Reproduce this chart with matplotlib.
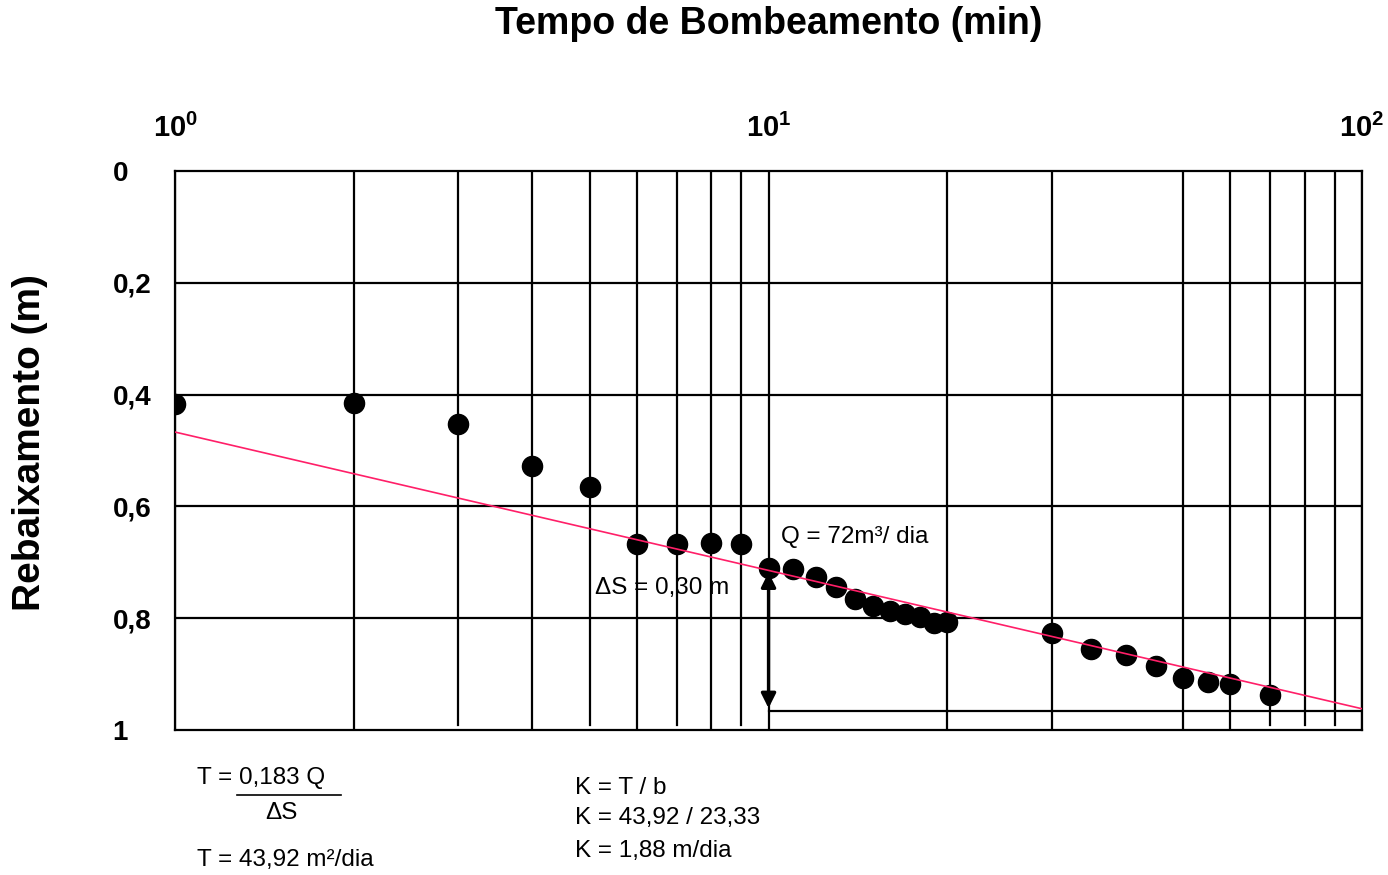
import matplotlib as mpl
import matplotlib.pyplot as plt
from matplotlib.lines import Line2D

mpl.rcParams['font.family'] = ['Liberation Sans', 'DejaVu Sans']
mpl.rcParams['mathtext.fontset'] = 'custom'
mpl.rcParams['mathtext.rm'] = 'Liberation Sans'
mpl.rcParams['mathtext.bf'] = 'Liberation Sans:bold'

# teste de bombeamento: tempo (min) x rebaixamento (m)
tempo_min = [1, 2, 3, 4, 5, 6, 7, 8, 9, 10, 11, 12, 13, 14, 15, 16, 17, 18, 19, 20,
             30, 35, 40, 45, 50, 55, 60, 70]
rebaixamento_m = [0.417, 0.415, 0.453, 0.528, 0.565, 0.667, 0.667, 0.665, 0.667,
                  0.710, 0.712, 0.727, 0.745, 0.765, 0.778, 0.787, 0.793, 0.798,
                  0.808, 0.806, 0.826, 0.855, 0.866, 0.886, 0.907, 0.914, 0.918, 0.937]

# reta de Jacob ajustada
reta_t = [1, 100]
reta_s = [0.467, 0.962]

# intervalo usado para o delta S
delta_t = 10
delta_s = [0.718, 0.966]

grade_x = [1, 2, 3, 4, 5, 6, 7, 8, 9, 10, 20, 30, 50, 60, 70, 80, 90, 100]
grade_curta = [3, 5, 7, 9, 70, 80, 90]
grade_y = [0.2, 0.4, 0.6, 0.8]

yticks = [0, 0.2, 0.4, 0.6, 0.8, 1]
ytick_labels = ['0', '0,2', '0,4', '0,6', '0,8', '1']
xticks = [1, 10, 100]
xtick_labels = [r'$\mathbf{10^{0}}$', r'$\mathbf{10^{1}}$', r'$\mathbf{10^{2}}$']

fig = plt.figure(figsize=(13.88, 8.75), dpi=100)
ax = fig.add_axes([0.1261, 0.1657, 0.8552, 0.6389])

ax.set_xscale('log')
ax.set_xlim(1, 100)
ax.set_ylim(1, 0)

# linhas de grade
for gx in grade_x:
    topo = 0.991 if gx in grade_curta else 1
    ax.plot([gx, gx], [0, topo], color='k', lw=1.6, zorder=1)
for gy in grade_y:
    ax.plot([1, 100], [gy, gy], color='k', lw=1.6, zorder=1)
ax.plot([delta_t, 100], [delta_s[1], delta_s[1]], color='k', lw=1.6, zorder=1)

ax.plot(tempo_min, rebaixamento_m, 'o', color='k', ms=14.5, zorder=3)
ax.plot(reta_t, reta_s, color='#ff1f68', lw=1.2, zorder=4)

ax.annotate('', xy=(delta_t, delta_s[1] - 0.005), xytext=(delta_t, delta_s[0]),
            arrowprops=dict(arrowstyle='<|-|>', color='k', lw=2.4,
                            mutation_scale=22, shrinkA=0, shrinkB=0), zorder=5)

ax.text(10.5, 0.655, 'Q = 72m³/ dia', fontsize=17.5, ha='left', va='center')
ax.text(5.1, 0.746, 'ΔS = 0,30 m', fontsize=17.5, ha='left', va='center')

for s in ax.spines.values():
    s.set_linewidth(1.6)
    s.set_color('k')

ax.xaxis.tick_top()
ax.set_xticks(xticks)
ax.set_xticklabels(xtick_labels, fontsize=21)
ax.xaxis.set_minor_locator(mpl.ticker.NullLocator())
ax.tick_params(axis='x', length=0, pad=20)

ax.set_yticks(yticks)
ax.set_yticklabels(ytick_labels, fontsize=20, fontweight='bold', ha='left')
ax.tick_params(axis='y', length=0, pad=45)

fig.text(0.554, 0.972, 'Tempo de Bombeamento (min)', fontsize=27,
         fontweight='bold', ha='center', va='center')
fig.text(0.0216, 0.494, 'Rebaixamento (m)', fontsize=28, fontweight='bold',
         rotation=90, ha='center', va='center')

# formulas abaixo do grafico
fig.text(0.142, 0.111, 'T = 0,183 Q', fontsize=17.5, ha='left', va='center')
fig.add_artist(Line2D([0.171, 0.246], [0.0914, 0.0914], color='k', lw=1.2))
fig.text(0.191, 0.071, 'ΔS', fontsize=17.5, ha='left', va='center')
fig.text(0.142, 0.017, 'T = 43,92 m²/dia', fontsize=17.5, ha='left', va='center')

fig.text(0.414, 0.0994, 'K = T / b', fontsize=17.5, ha='left', va='center')
fig.text(0.414, 0.0651, 'K = 43,92 / 23,33', fontsize=17.5, ha='left', va='center')
fig.text(0.414, 0.0274, 'K = 1,88 m/dia', fontsize=17.5, ha='left', va='center')

fig.savefig('out.png', dpi=100)
